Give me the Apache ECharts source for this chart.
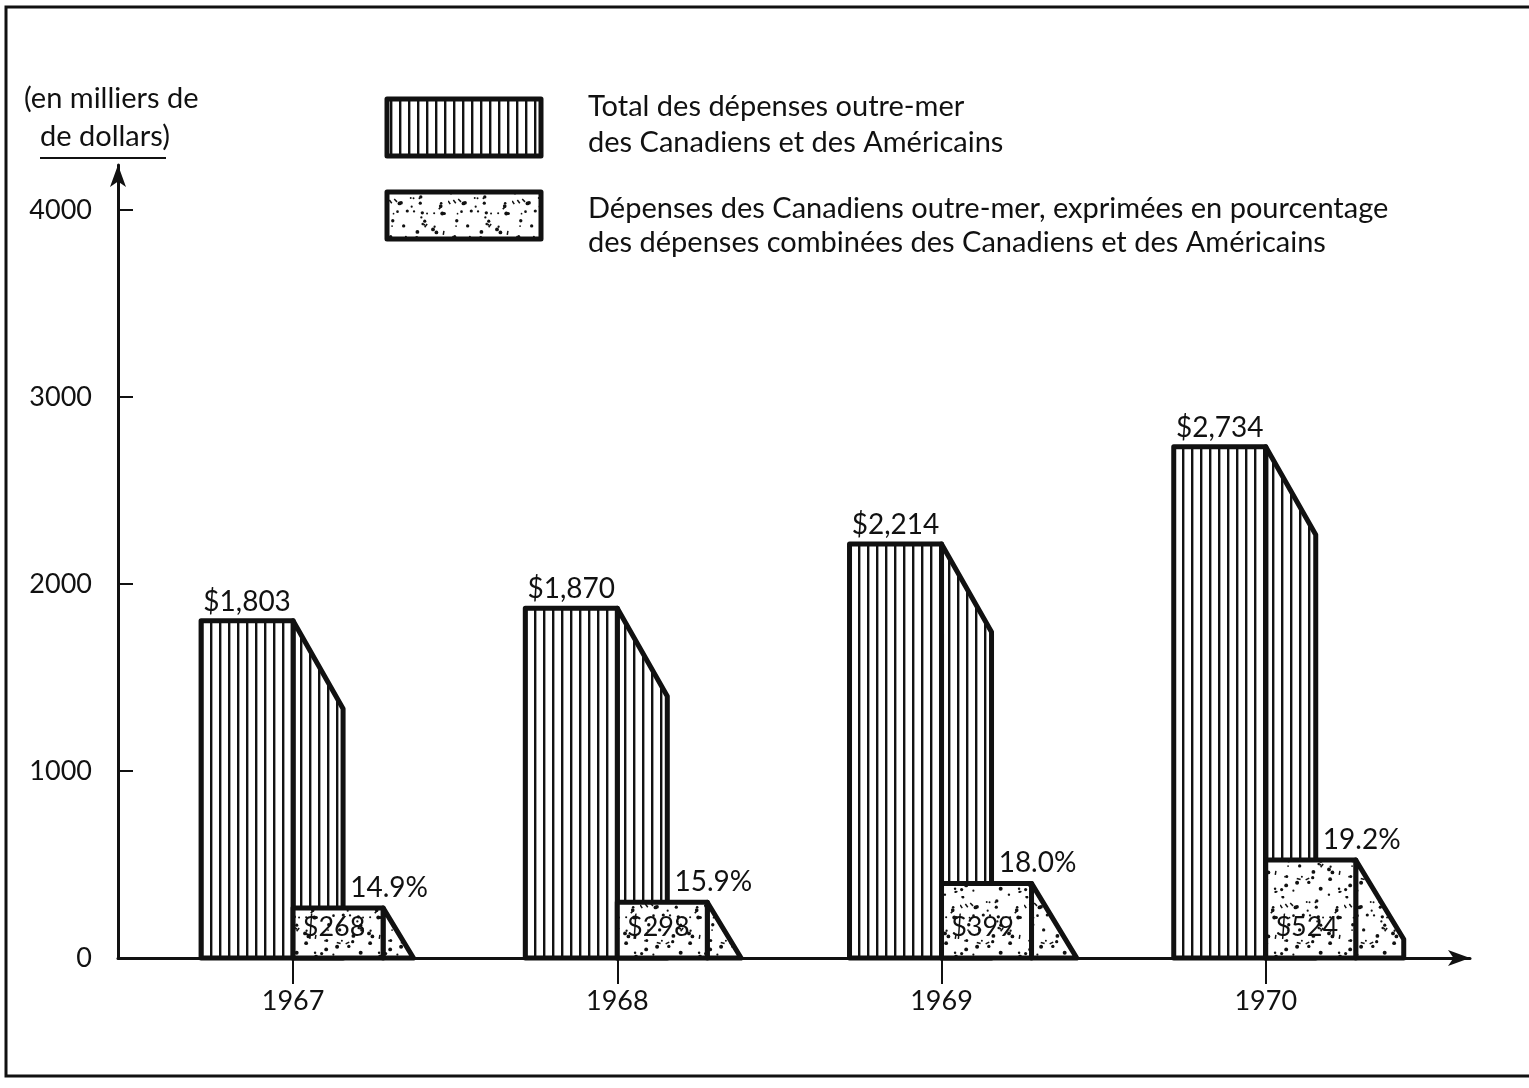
<!DOCTYPE html>
<html>
<head>
<meta charset="utf-8">
<script src="https://cdn.jsdelivr.net/npm/echarts@6/dist/echarts.min.js"></script>
<style>
  html, body { margin: 0; padding: 0; background: #fff; }
  #chart { width: 1529px; height: 1088px; }
</style>
</head>
<body>
<div id="chart"></div>
<script>
// Dépenses outre-mer (en milliers de dollars)
const years = [1967, 1968, 1969, 1970];
const totalSpending = [1803, 1870, 2214, 2734];      // Canadiens + Américains
const canadianSpending = [268, 298, 399, 524];       // Canadiens seulement
const canadianShare = [14.9, 15.9, 18.0, 19.2];      // % des dépenses combinées
const yTicks = [0, 1000, 2000, 3000, 4000];

const INK = '#111';
const FONT = 'Lato, "Noto Sans", sans-serif';

// vertical hatching used for the total bars
function hatchPattern() {
  const c = document.createElement('canvas');
  c.width = 9; c.height = 8;
  const g = c.getContext('2d');
  g.fillStyle = '#fff'; g.fillRect(0, 0, 9, 8);
  g.fillStyle = INK; g.fillRect(3, 0, 2.4, 8);
  return c;
}

// stippled dots used for the Canadian bars (fixed-seed generator so the texture is stable)
function stipplePattern() {
  const c = document.createElement('canvas');
  c.width = 64; c.height = 64;
  const g = c.getContext('2d');
  g.fillStyle = '#fff'; g.fillRect(0, 0, 64, 64);
  g.fillStyle = INK;
  let s = 12345;
  const rnd = () => { s = (s * 16807) % 2147483647; return s / 2147483647; };
  for (let i = 0; i < 48; i++) {
    const x = rnd() * 64, y = rnd() * 64, r = 0.8 + rnd() * 1.2;
    g.beginPath(); g.arc(x, y, r, 0, Math.PI * 2); g.fill();
  }
  g.strokeStyle = INK; g.lineWidth = 1.5;
  for (let i = 0; i < 8; i++) {
    const x = rnd() * 64, y = rnd() * 64, a = rnd() * Math.PI;
    g.beginPath(); g.moveTo(x, y); g.lineTo(x + Math.cos(a) * 4, y + Math.sin(a) * 4); g.stroke();
  }
  return c;
}

const hatch = { image: hatchPattern(), repeat: 'repeat' };
const stipple = { image: stipplePattern(), repeat: 'repeat' };

const outline = { stroke: INK, lineWidth: 5, lineJoin: 'round' };

function money(v) { return '$' + v.toLocaleString('en-US'); }

// tall bar: front face to the left of the year, slanted side face behind
function renderTotal(params, api) {
  const yr = api.value(0), v = api.value(1);
  const top = api.coord([yr, v]);
  const base = api.coord([yr, 0]);
  const cx = top[0], yT = top[1], yB = base[1];
  const W = 92, DX = 50, DY = 88;
  const side = [[cx, yT], [cx + DX, yT + DY], [cx + DX, yB], [cx, yB]];
  const front = [[cx - W, yB], [cx - W, yT], [cx, yT], [cx, yB]];
  return {
    type: 'group',
    children: [
      { type: 'polygon', shape: { points: side }, style: Object.assign({ fill: hatch }, outline) },
      { type: 'polygon', shape: { points: front }, style: Object.assign({ fill: hatch }, outline) },
      { type: 'text', style: { text: money(v), x: cx - W / 2, y: yT - 5, align: 'center',
        verticalAlign: 'bottom', font: '28px ' + FONT, fill: INK } }
    ]
  };
}

// Canadian bar: front face to the right of the year, side face sloping to the ground
function renderCanadian(params, api) {
  const yr = api.value(0), v = api.value(1);
  const top = api.coord([yr, v]);
  const base = api.coord([yr, 0]);
  const cx = top[0], yT = top[1], yB = base[1];
  const W = 90, DX = 48, SLOPE = 1.65;
  const xr = cx + W;
  let side;
  if (yT + DX * SLOPE >= yB) {
    side = [[xr, yT], [xr + (yB - yT) / SLOPE, yB], [xr, yB]];
  } else {
    side = [[xr, yT], [xr + DX, yT + DX * SLOPE], [xr + DX, yB], [xr, yB]];
  }
  const front = [[cx, yB], [cx, yT], [xr, yT], [xr, yB]];
  return {
    type: 'group',
    children: [
      { type: 'polygon', shape: { points: side }, style: Object.assign({ fill: stipple }, outline) },
      { type: 'polygon', shape: { points: front }, style: Object.assign({ fill: stipple }, outline) },
      { type: 'text', style: { text: money(v), x: cx + W / 2 - 4, y: yB - 31, align: 'center',
        verticalAlign: 'middle', font: '27px ' + FONT, fill: INK } },
      { type: 'text', style: { text: canadianShare[params.dataIndex].toFixed(1) + '%', x: xr + 6, y: yT - 6,
        align: 'center', verticalAlign: 'bottom', font: '28px ' + FONT, fill: INK } }
    ]
  };
}

const chart = echarts.init(document.getElementById('chart'), null, { renderer: 'canvas' });

chart.setOption({
  backgroundColor: '#fff',
  animation: false,
  grid: { left: 118, right: 59, top: 165, bottom: 130 },
  xAxis: {
    type: 'value',
    min: 1966.46,
    max: 1970.63,
    axisLine: { show: true, symbol: ['none', 'arrow'], symbolSize: [12, 22],
      lineStyle: { color: INK, width: 3 } },
    axisTick: { show: true, customValues: years, length: 26, lineStyle: { color: INK, width: 2 } },
    axisLabel: { customValues: years, formatter: v => String(v), margin: 30, color: INK,
      fontFamily: FONT, fontSize: 27 },
    splitLine: { show: false }
  },
  yAxis: {
    type: 'value',
    min: 0,
    max: 4240,
    axisLine: { show: true, symbol: ['none', 'arrow'], symbolSize: [12, 22],
      lineStyle: { color: INK, width: 3 } },
    axisTick: { show: true, customValues: yTicks, inside: true, length: 15,
      lineStyle: { color: INK, width: 2 } },
    axisLabel: { customValues: yTicks, formatter: v => String(v), margin: 26, color: INK,
      fontFamily: FONT, fontSize: 27 },
    splitLine: { show: false }
  },
  series: [
    {
      name: 'Total des dépenses outre-mer des Canadiens et des Américains',
      type: 'custom',
      renderItem: renderTotal,
      data: years.map((y, i) => [y, totalSpending[i]]),
      clip: false
    },
    {
      name: 'Dépenses des Canadiens outre-mer',
      type: 'custom',
      renderItem: renderCanadian,
      data: years.map((y, i) => [y, canadianSpending[i]]),
      clip: false
    }
  ],
  graphic: [
    // frame
    { type: 'polyline', shape: { points: [[1529, 7], [6, 7], [6, 1076], [1529, 1076]] },
      style: { stroke: INK, lineWidth: 3, fill: null } },
    // unit caption
    { type: 'text', left: 24, top: 84,
      style: { text: '(en milliers de', font: '29px ' + FONT, fill: INK } },
    { type: 'text', left: 40, top: 122,
      style: { text: 'de dollars)', font: '29px ' + FONT, fill: INK } },
    { type: 'line', shape: { x1: 40, y1: 158, x2: 166, y2: 158 }, style: { stroke: INK, lineWidth: 2 } },
    // legend swatches
    { type: 'rect', shape: { x: 387, y: 99, width: 154, height: 57 },
      style: Object.assign({ fill: hatch }, outline) },
    { type: 'rect', shape: { x: 387, y: 192, width: 154, height: 47 },
      style: Object.assign({ fill: stipple }, outline) },
    // legend texts
    { type: 'text', left: 588, top: 89,
      style: { text: 'Total des dépenses outre-mer\ndes Canadiens et des Américains',
        font: '29px ' + FONT, lineHeight: 36, fill: INK } },
    { type: 'text', left: 588, top: 192,
      style: { text: 'Dépenses des Canadiens outre-mer, exprimées en pourcentage\ndes dépenses combinées des Canadiens et des Américains',
        font: '29px ' + FONT, lineHeight: 34, fill: INK } }
  ]
});
</script>
</body>
</html>
